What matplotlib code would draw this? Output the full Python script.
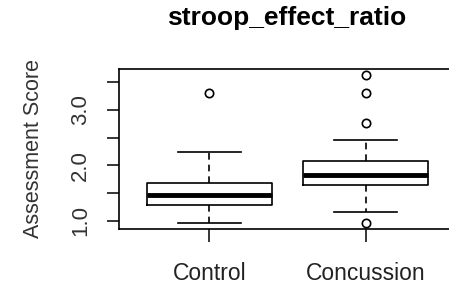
import matplotlib
matplotlib.use("Agg")
import matplotlib.pyplot as plt

plt.rcParams["font.family"] = ["Liberation Sans", "DejaVu Sans"]

# values (box stats per group)
groups = ["Control", "Concussion"]
q1 = [1.28, 1.64]
medians = [1.46, 1.83]
q3 = [1.69, 2.07]
whisker_lo = [0.97, 1.16]
whisker_hi = [2.24, 2.46]
outliers = [[3.30], [3.63, 3.30, 2.77, 0.96]]
yticks = [1.0, 1.5, 2.0, 2.5, 3.0, 3.5]
ytick_labels = ["1.0", "", "2.0", "", "3.0", ""]

stats = []
for i, g in enumerate(groups):
    stats.append({"label": g, "q1": q1[i], "med": medians[i], "q3": q3[i],
                  "whislo": whisker_lo[i], "whishi": whisker_hi[i],
                  "fliers": outliers[i]})

fig = plt.figure(figsize=(4.49, 2.89), dpi=100)
ax = fig.add_axes([119 / 449, 60 / 289, 337 / 449, 160 / 289])

ax.bxp(stats, positions=[1, 2], widths=0.8, showfliers=True,
       boxprops=dict(color="black", linewidth=1.2),
       medianprops=dict(color="black", linewidth=3.5, solid_capstyle="butt"),
       whiskerprops=dict(color="black", linewidth=1.2, linestyle=(0, (4, 3))),
       capprops=dict(color="black", linewidth=1.2),
       capwidths=0.4,
       flierprops=dict(marker="o", markersize=6, markerfacecolor="none",
                       markeredgecolor="black", markeredgewidth=1.2))

# R-style limits: data range extended 4%
lo = min(min(whisker_lo), min(min(o) for o in outliers))
hi = max(max(whisker_hi), max(max(o) for o in outliers))
pad = 0.04 * (hi - lo)
ax.set_ylim(lo - pad, hi + pad)
ax.set_xlim(0.42, 2.58)

ax.set_yticks(yticks)
ax.set_yticklabels(ytick_labels, rotation=90, va="center", fontsize=16)
ax.set_xticks([1, 2])
ax.set_xticklabels(groups, fontsize=16.5, color="#222222")
ax.tick_params(axis="both", length=9, width=1.1, color="black")
ax.tick_params(axis="y", pad=11, labelcolor="#333333")
ax.tick_params(axis="x", pad=15)
for sp in ax.spines.values():
    sp.set_linewidth(1.2)

ax.set_ylabel("Assessment Score", fontsize=15.5, color="#333333", labelpad=19)
fig.text(287 / 449, 1 - 18 / 289, "stroop_effect_ratio", ha="center",
         va="center", fontsize=19, fontweight="bold")

fig.savefig("out.png", dpi=100)
